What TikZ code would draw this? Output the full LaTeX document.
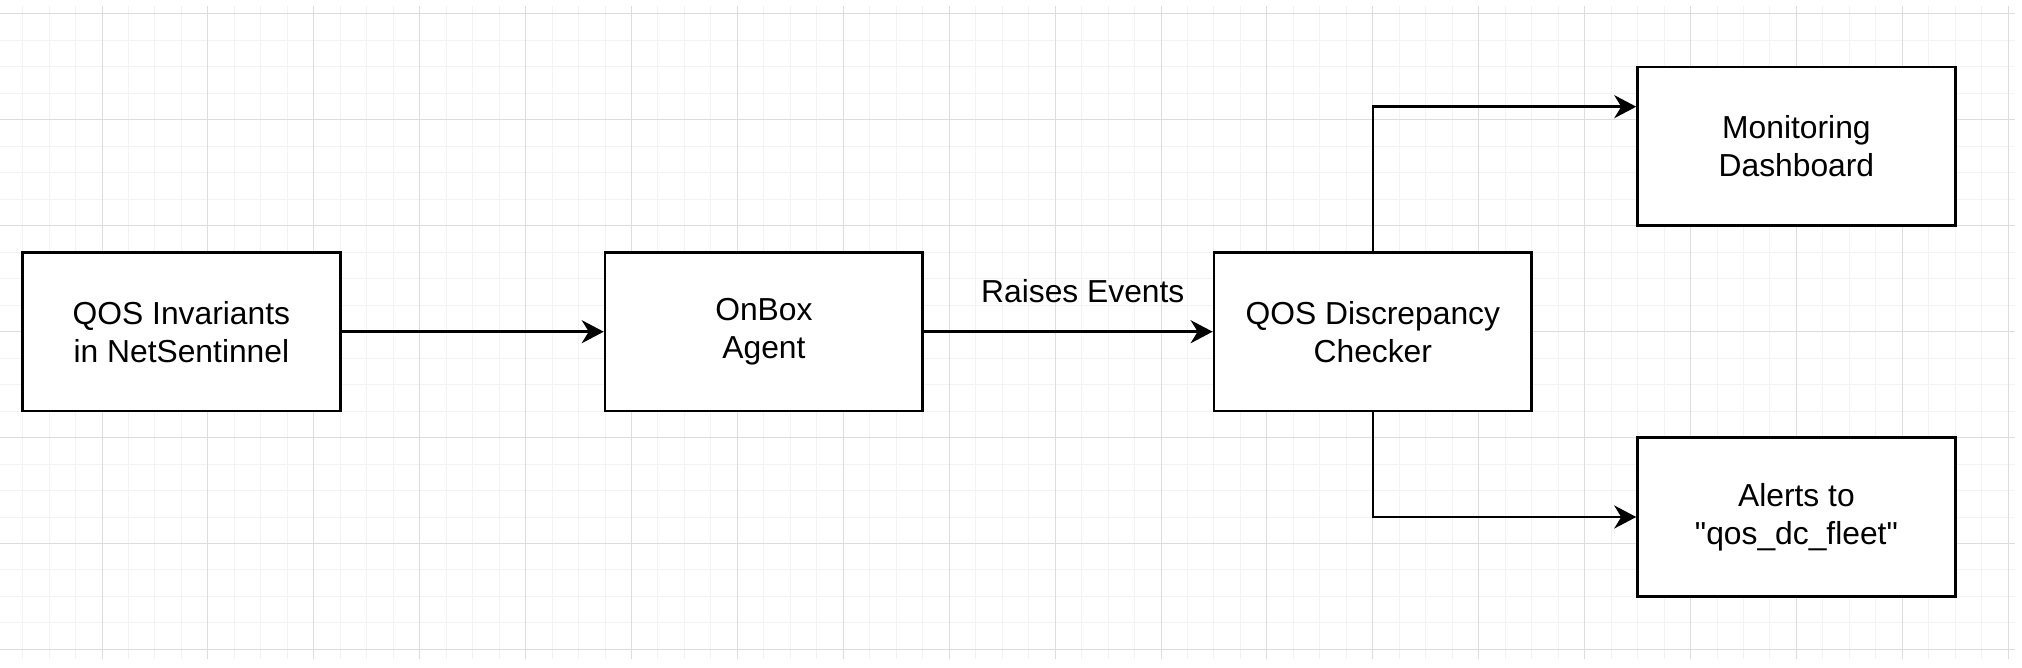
\documentclass[tikz,border=0pt]{standalone}
\usepackage{fontspec}
\setmainfont{Liberation Sans}
\newfontfamily\dfont{Liberation Sans}[Ligatures=ResetAll]
\usetikzlibrary{arrows.meta}
\definecolor{gridminor}{HTML}{F3F3F3}
\definecolor{gridmajor}{HTML}{DDDDDD}
\begin{document}
\begin{tikzpicture}[x=0.5pt,y=-0.5pt,
  box/.style={draw=black, line width=1.32pt, fill=white, minimum width=158.85pt,
    minimum height=79.4pt, inner sep=0pt, align=center,
    font=\dfont\fontsize{15.9}{19}\selectfont},
  lbl/.style={font=\dfont\fontsize{15.9}{19}\selectfont, inner sep=0pt},
  arr/.style={line width=1.32pt, -{Stealth[length=11pt, width=11.5pt, inset=3.5pt]}},
  minorline/.style={draw=gridminor, line width=0.5pt},
  majorline/.style={draw=gridmajor, line width=0.5pt}]
\useasboundingbox (0,0) rectangle (2022,668);
\fill[white] (0,0) rectangle (2022,668);
% grid
\foreach \k in {1,...,76} {
  \pgfmathsetmacro\xx{-3.9+\k*26.475}
  \draw[minorline] (\xx,6) -- (\xx,659);
}
\foreach \k in {0,...,24} {
  \pgfmathsetmacro\yy{14+\k*26.475}
  \draw[minorline] (0,\yy) -- (2015,\yy);
}
\foreach \k in {4,8,...,76} {
  \pgfmathsetmacro\xx{-3.9+\k*26.475}
  \draw[majorline] (\xx,6) -- (\xx,659);
}
\foreach \k in {0,4,...,24} {
  \pgfmathsetmacro\yy{14+\k*26.475}
  \draw[majorline] (0,\yy) -- (2015,\yy);
}
% boxes
\node[box] (b1) at (181.4,331.7) {QOS Invariants\\in NetSentinnel};
\node[box] (b2) at (763.9,331.7) {OnBox\\Agent};
\node[box] (b3) at (1372.8,331.7) {QOS Discrepancy\\Checker};
\node[box] (b4) at (1796.4,146.4) {Monitoring\\Dashboard};
\node[box] (b5) at (1796.4,517.0) {Alerts to\\"qos\_dc\_fleet"};
% connectors
\draw[arr] (b1) -- (b2);
\draw[arr] (b2) -- node[lbl, pos=0.55, anchor=base, yshift=14.5pt] (ev) {Raises Events} (b3);
\draw[arr] (b3.north) |- ([yshift=19.85pt]b4.west);
\draw[arr] (b3.south) |- (b5.west);
\end{tikzpicture}
\end{document}
